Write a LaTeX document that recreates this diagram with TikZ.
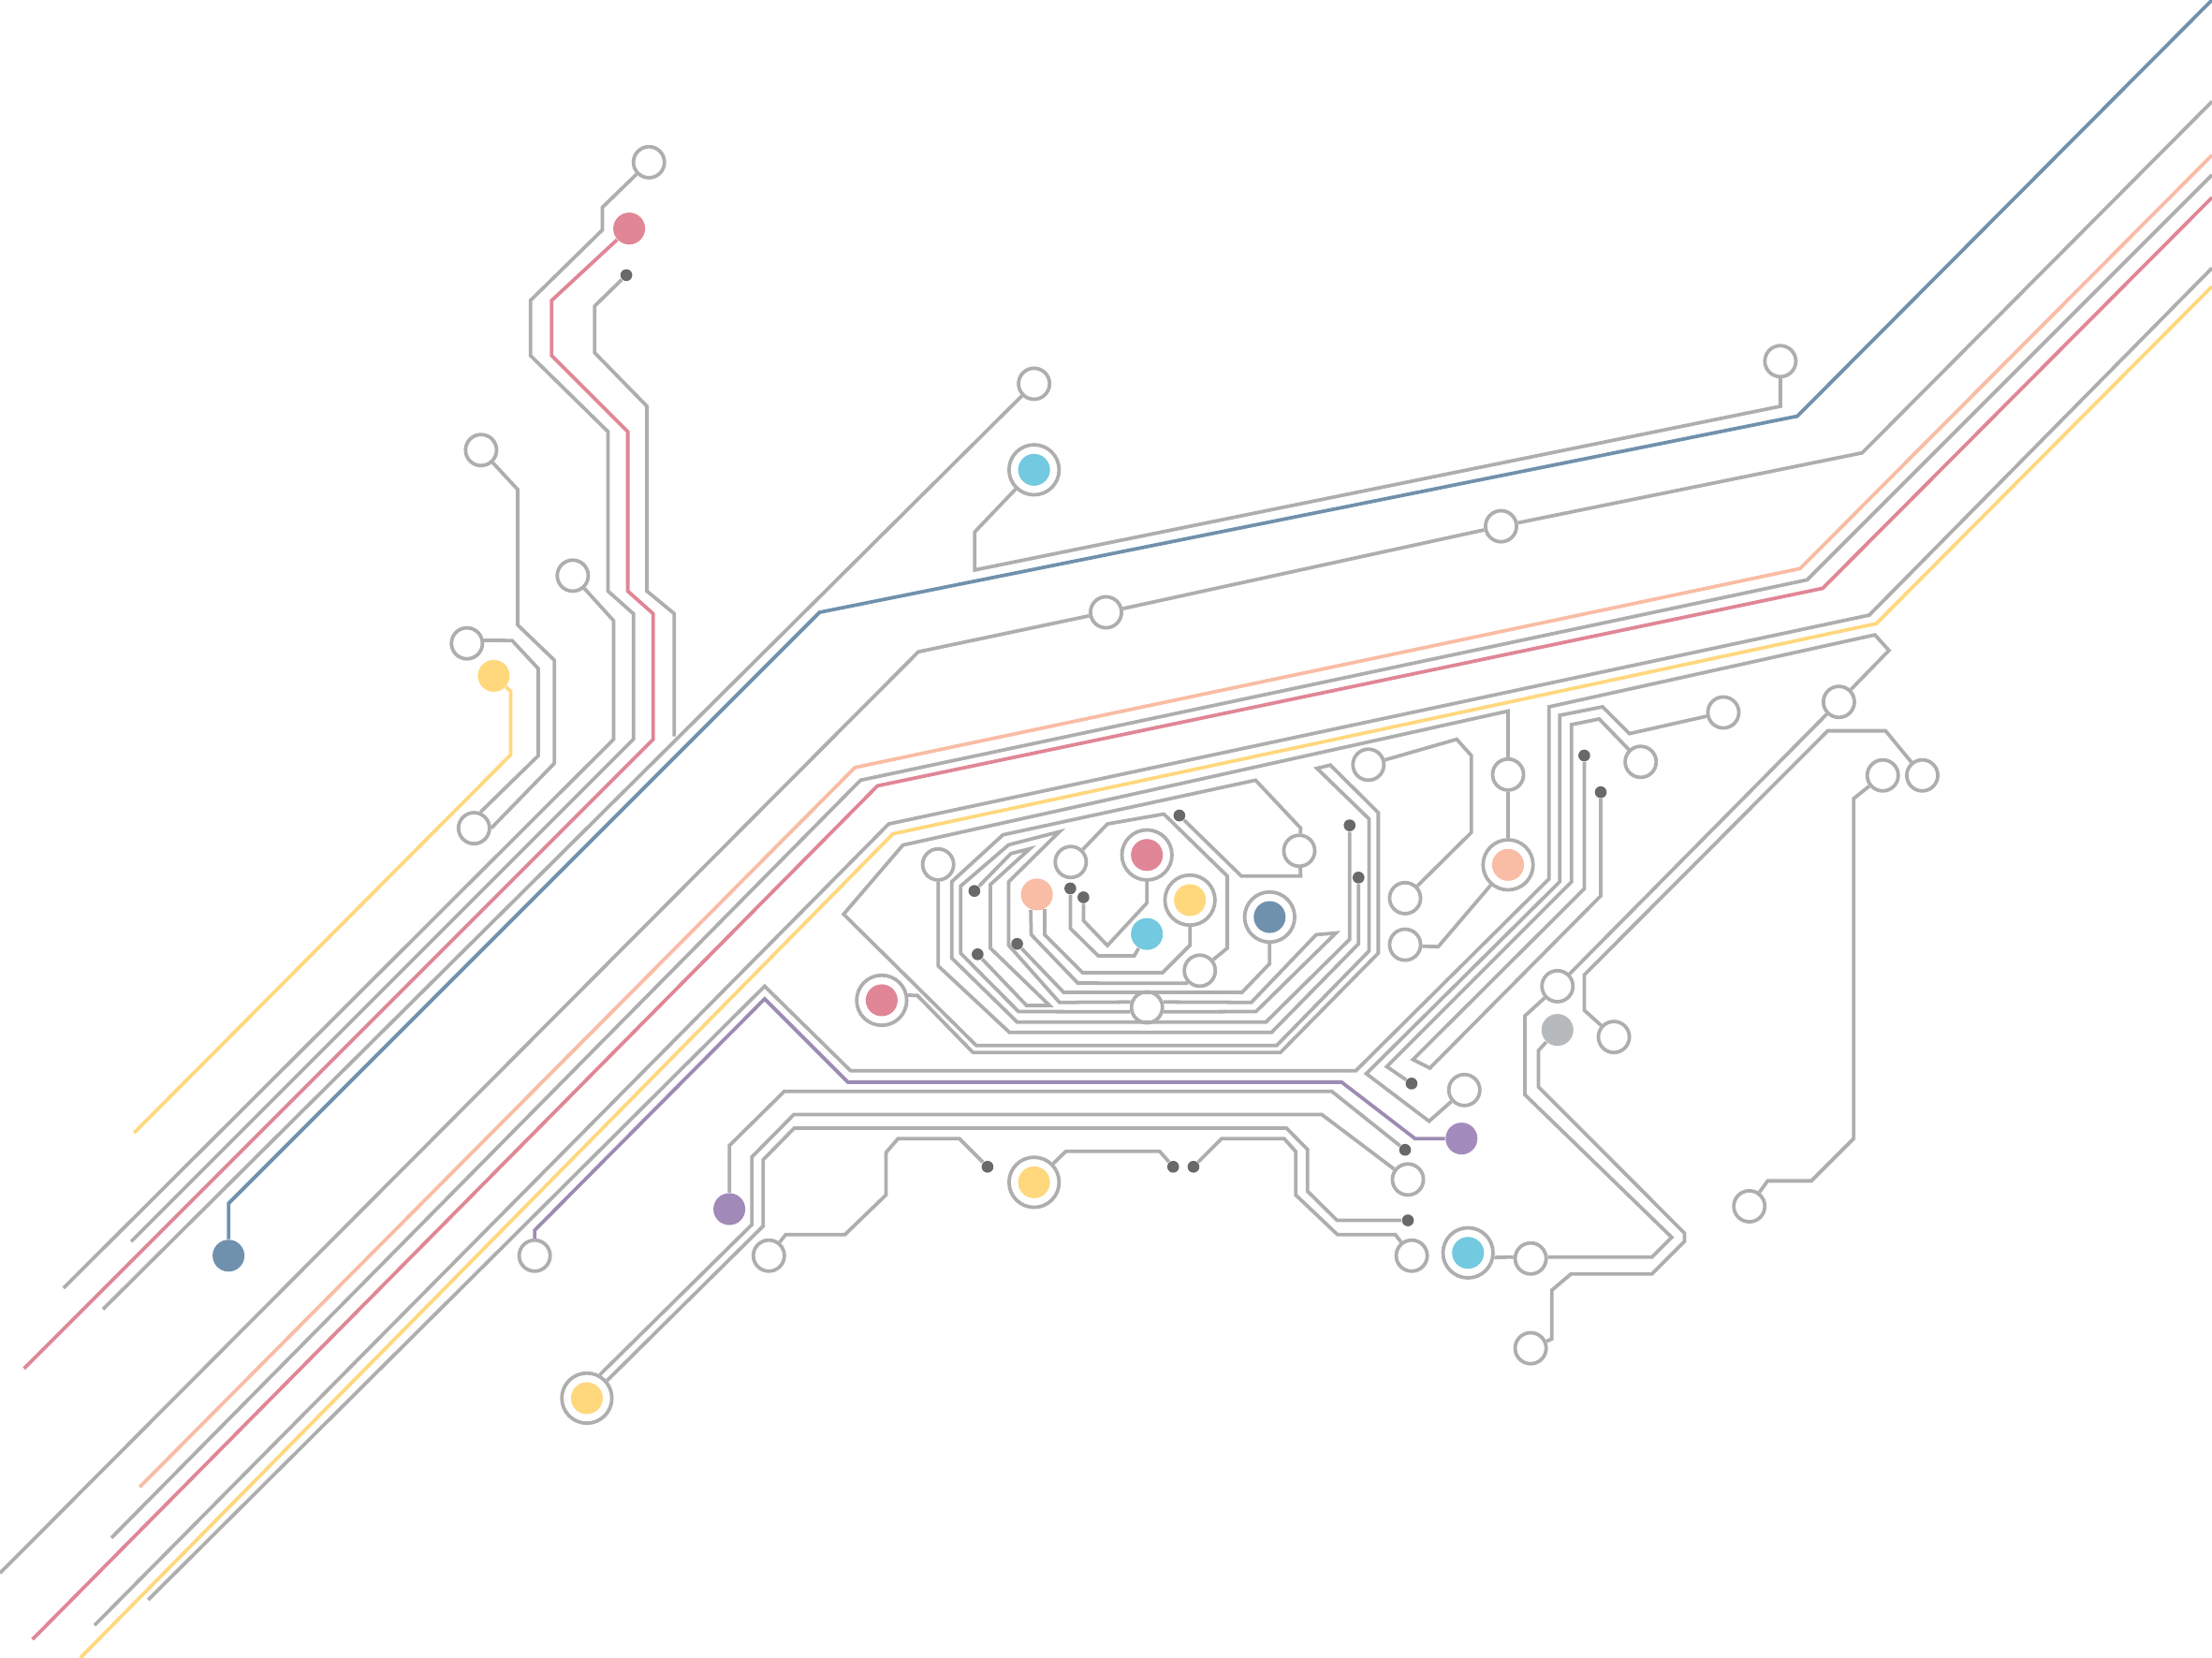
\documentclass[tikz,border=0pt]{standalone}
\usetikzlibrary{positioning}
\definecolor{wiregray}{HTML}{AEAEAE}
\definecolor{viagray}{HTML}{696969}
\definecolor{silvergray}{HTML}{B6BABC}
\definecolor{steelblue}{HTML}{7091AD}
\definecolor{rosepink}{HTML}{E08696}
\definecolor{peachy}{HTML}{F9BCA4}
\definecolor{sunyellow}{HTML}{FFD87E}
\definecolor{skycyan}{HTML}{73C9E0}
\definecolor{lilac}{HTML}{A48BBD}
\definecolor{lilacwire}{HTML}{9D8BB3}

\begin{document}
\begin{tikzpicture}[
      x=0.5pt, y=-0.5pt,
      wire/.style={draw=wiregray, line width=1.25pt},
      pad/.style={draw=wiregray, line width=1.25pt, circle, fill=white, inner sep=0pt, minimum size=11pt},
      ringpad/.style={pad, minimum size=17.75pt, path picture={\fill[#1] (path picture bounding box.center) circle (5.65pt);}},
      spot/.style={circle, fill=#1, inner sep=0pt, minimum size=11.3pt},
      via/.style={circle, fill=viagray, inner sep=0pt, minimum size=4.2pt}
    ]
    \useasboundingbox (0,0) rectangle (1568,1175.16);

    % Upper left nodes
    \node[pad] (toppad) at (460,115) {};
    \node[spot=rosepink] (topspot) at (446,162) {};
    \node[via] (topvia) at (444,195) {};
    \node[pad] (leftpad) at (341,319) {};
    \node[pad] (midpad) at (406,408) {};
    \node[pad] (lowpad) at (331,456) {};
    \node[spot=sunyellow] (leftspot) at (350,479) {};
    \node[pad] (footpad) at (336,587) {};
    \node[spot=steelblue] (bluespot) at (162,890) {};

    % Upper middle nodes
    \node[pad] (busapad) at (733,272) {};
    \node[ringpad=skycyan] (cyanring) at (733,333) {};
    \node[pad] (buspad) at (1262,256) {};
    \node[pad] (railpad) at (1064,373) {};
    \node[pad] (railpadb) at (784,434) {};

    % Centre nodes
    \node[pad] (corepad) at (665,612.7) {};
    \node[ringpad=rosepink] (corering) at (625,709) {};
    \node[spot=peachy] (peachspot) at (735,634) {};
    \node[pad] (innerpad) at (759,611) {};
    \node[ringpad=rosepink] (pinkring) at (813,606) {};
    \node[ringpad=sunyellow] (yellowring) at (843.5,638) {};
    \node[spot=skycyan] (cyanspot) at (813,662) {};
    \node[ringpad=steelblue] (bluering) at (900,650) {};
    \node[pad] (gatepad) at (921,603) {};
    \node[pad] (sidepad) at (850.5,688) {};
    \node[pad] (basepad) at (813,714) {};
    \node[via] (viaa) at (690.7,631.5) {};
    \node[via] (viab) at (693,676.4) {};
    \node[via] (viac) at (721,669) {};
    \node[via] (viad) at (758.7,629.7) {};
    \node[via] (viae) at (768,636) {};
    \node[via] (viaf) at (836,578) {};
    \node[via] (viag) at (956.7,585) {};
    \node[via] (viah) at (963,622) {};

    % Right nodes
    \node[pad] (padlink) at (970,542) {};
    \node[pad] (padlinkb) at (996,636.6) {};
    \node[pad] (padstub) at (996,669.6) {};
    \node[pad] (padcol) at (1069,549) {};
    \node[ringpad=peachy] (peachring) at (1069,613) {};
    \node[pad] (padfork) at (1163,540) {};
    \node[pad] (padfar) at (1221.6,505) {};
    \node[pad] (padnode) at (1303.5,497.5) {};
    \node[pad] (padleft) at (1334.6,549.6) {};
    \node[pad] (padright) at (1362.6,549.6) {};
    \node[pad] (padjoin) at (1104,699) {};
    \node[spot=silvergray] (silverspot) at (1104,730) {};
    \node[pad] (padside) at (1144,735) {};
    \node[pad] (padtail) at (1240,855) {};
    \node[via] (viai) at (1123,535.5) {};
    \node[via] (viaj) at (1134.7,561.5) {};
    \node[via] (viak) at (1000.6,768) {};

    % Lower nodes
    \node[pad] (padturn) at (1038,772.6) {};
    \node[spot=lilac] (lilacspot) at (1036,807) {};
    \node[via] (vial) at (996,815) {};
    \node[pad] (padbus) at (998,836) {};
    \node[via] (viam) at (998,865) {};
    \node[pad] (padend) at (1000.7,890) {};
    \node[ringpad=skycyan] (cyanringb) at (1040.6,888) {};
    \node[pad] (padwire) at (1085,892) {};
    \node[pad] (padlast) at (1085,955.6) {};
    \node[ringpad=sunyellow] (yellowringb) at (733,838) {};
    \node[via] (vian) at (700,827) {};
    \node[via] (viao) at (831.6,827) {};
    \node[via] (viap) at (846,827) {};
    \node[spot=lilac!90!gray] (lilacspotb) at (517,857) {};
    \node[pad] (padstep) at (545,890) {};
    \node[pad] (padlow) at (379,890) {};
    \node[ringpad=sunyellow] (yellowringc) at (416,991) {};

    % Free ends
    \coordinate (blueend) at (1568,0);
    \coordinate (railend) at (1568,72);
    \coordinate (peachend) at (1568,110);
    \coordinate (grayend) at (1568,124);
    \coordinate (pinkend) at (1568,140);
    \coordinate (lineend) at (1568,190);
    \coordinate (yellowend) at (1568,203);

    % Long lines
    \draw[wire, draw=steelblue] (bluespot) -- (162,853) -- (581,434) -- (1274,295) -- (blueend);
    \draw[wire] (railend) -- (1320,321) -- (railpad);
    \draw[wire] (railpad) -- (railpadb);
    \draw[wire] (railpadb) -- (651,462) -- (0,1115);
    \draw[wire] (cyanring) -- (691,377) -- (691,404) -- (1262,288) -- (buspad);
    \draw[wire, draw=peachy] (peachend) -- (1276,403) -- (606,544) -- (99,1054);
    \draw[wire] (grayend) -- (1281,411) -- (610,553) -- (79,1090);
    \draw[wire, draw=rosepink] (pinkend) -- (1292,417) -- (622,557) -- (23,1162);
    \draw[wire] (lineend) -- (1325,436) -- (630,584) -- (67,1152);
    \draw[wire, draw=sunyellow] (yellowend) -- (1330,442) -- (633,591) -- (57,1175);
    \draw[wire] (padnode) -- (1339,461) -- (1329,450) -- (1098,501) -- (1098,623) -- (961,759) -- (603,759) -- (542,699) -- (105,1134);
    \draw[wire, draw=lilacwire] (lilacspot) -- (1003,807) -- (951,767) -- (601,767) -- (542,708) -- (379,872) -- (padlow);

    % Upper left wires
    \draw[wire] (midpad) -- (435,440) -- (435,524) -- (45,913);
    \draw[wire] (toppad) -- (427,147) -- (427,163) -- (376,213) -- (376,252) -- (431,306) -- (431,419) -- (449,435) -- (449,524) -- (93,880);
    \draw[wire, draw=rosepink] (topspot) -- (391,213) -- (391,252) -- (445,306) -- (445,419) -- (463,435) -- (463,524) -- (17,970);
    \draw[wire] (topvia) -- (421.5,217) -- (421.5,250) -- (458.6,288) -- (458.6,419) -- (478,435) -- (478,522);
    \draw[wire] (busapad) -- (73,928);
    \draw[wire, draw=sunyellow] (leftspot) -- (362,490) -- (362,535) -- (95,803);
    \draw[wire] (leftpad) -- (367,347) -- (367,443) -- (393,468) -- (393,541) -- (footpad.0);
    \draw[wire] (lowpad.10) -- (363,454) -- (381.6,474) -- (381.6,535.6) -- (footpad.68);

    % Centre wires
    \draw[wire] (gatepad) -- (922,587) -- (890,553) -- (711,591.7) -- (674.6,625) -- (674.6,679) -- (721,724.4) -- (897.4,724.4) -- (956.7,665.8) -- (viag);
    \draw[wire] (basepad.195) -- (722,717) -- (681,675.7) -- (681,628) -- (715,598.8) -- (751,589.5) -- (715,625) -- (715,670) -- (751,710.5) -- (basepad.162);
    \draw[wire] (basepad.-15) -- (890.3,717) -- (947,661.3) -- (933,662.5) -- (887,710.5) -- (basepad.18);
    \draw[wire] (viaa) -- (716.6,605) -- (730,601.6) -- (702,627) -- (702,672) -- (744,712.7) -- (727.7,712.7) -- (viab);
    \draw[wire] (viac) -- (754,703.4) -- (880.4,703.4) -- (900,683) -- (bluering);
    \draw[wire] (corering.11) -- (650.3,705.6) -- (689.7,746) -- (907.6,746) -- (977,675.6) -- (977,576) -- (943,542.3) -- (933.5,544.6) -- (970.5,580.5) -- (970.5,674) -- (905,741) -- (692,741) -- (598,648) -- (640,599) -- (1069,504) -- (padcol);
    \draw[wire] (corepad) -- (665,684.6) -- (715.5,731.7) -- (901.4,731.7) -- (963,669) -- (viah);
    \draw[wire] (peachspot.-62) -- (740.5,662.5) -- (767.5,689.5) -- (824,689.5) -- (843.5,670) -- (yellowring);
    \draw[wire] (peachspot.-112) -- (731,662.5) -- (764,696.8) -- (sidepad.227);
    \draw[wire] (innerpad) -- (785,584) -- (825,577) -- (870,621) -- (870,672) -- (sidepad);
    \draw[wire] (pinkring) -- (813,640) -- (785,670.2) -- (768,652.5) -- (viae);
    \draw[wire] (viad) -- (758.7,658) -- (778.5,677.5) -- (804,677.5) -- (cyanspot);
    \draw[wire] (viaf) -- (880,621) -- (922,621) -- (gatepad);

    % Right wires
    \draw[wire] (padlink) -- (1032.6,524) -- (1043,535.6) -- (1043,590) -- (padlinkb);
    \draw[wire] (padcol) -- (peachring);
    \draw[wire] (peachring) -- (1019.5,671) -- (padstub.-5);
    \draw[wire] (padturn) -- (1013,794.7) -- (968.5,761) -- (1105.6,625) -- (1105.6,507) -- (1136,501) -- (1155,520) -- (padfar);
    \draw[wire] (viak) -- (983,756) -- (1114,625) -- (1114,513.6) -- (1133.6,509.6) -- (padfork);
    \draw[wire] (viai) -- (1123,630) -- (1001.6,751) -- (1013.6,757) -- (1134.7,635) -- (viaj);
    \draw[wire] (padnode) -- (padjoin);
    \draw[wire] (padright) -- (1336.6,518) -- (1295.6,518) -- (1123,691) -- (1123,716) -- (padside);
    \draw[wire] (padleft) -- (1314,566) -- (1314,807) -- (1284,837) -- (1253,837) -- (padtail);
    \draw[wire] (padjoin) -- (1081,720) -- (1081,776) -- (1185,877) -- (1171,891) -- (padwire.5);
    \draw[wire] (silverspot) -- (1090.6,744.5) -- (1090.6,770.4) -- (1194,874) -- (1194,880) -- (1171,903) -- (1113.6,903) -- (1100,914.5) -- (1100,949) -- (padlast);
    \draw[wire] (cyanringb.-10) -- (padwire.175);

    % Lower wires
    \draw[wire] (vial) -- (944,773.5) -- (556,773.5) -- (517,812) -- (lilacspotb);
    \draw[wire] (padbus) -- (937,790) -- (562.7,790) -- (533,820) -- (533,868) -- (yellowringc.61);
    \draw[wire] (viap) -- (866,807) -- (910.2,807) -- (918.5,816.2) -- (918.5,847) -- (948,875) -- (989,875) -- (padend);
    \draw[wire] (viam) -- (947.8,865) -- (926.8,844.3) -- (926.8,814.7) -- (911.9,799.6) -- (563,799.6) -- (541,822) -- (541,869) -- (yellowringc.41);
    \draw[wire] (vian) -- (680,807) -- (636.6,807) -- (628,817) -- (628,847) -- (599,875) -- (557,875) -- (padstep);
    \draw[wire] (yellowringb) -- (755.6,816) -- (822,816) -- (viao);
\end{tikzpicture}
\end{document}
